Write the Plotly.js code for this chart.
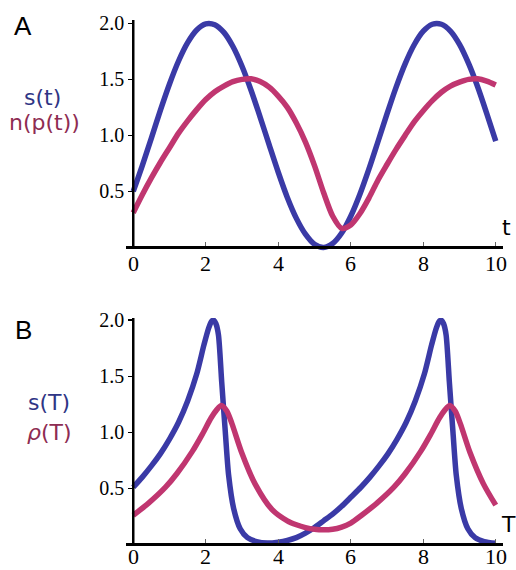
<!DOCTYPE html>
<html>
<head>
<meta charset="utf-8">
<script src="https://cdn.plot.ly/plotly-3.0.1.min.js"></script>
<style>html,body{margin:0;padding:0;background:#fff;}#chart{width:516px;height:570px;}</style>
</head>
<body>
<div id="chart"></div>
<script>
// Panel A
const tA = [0,0.25,0.5,0.75,1,1.25,1.5,1.75,2,2.25,2.5,2.75,3,3.25,3.5,3.75,4,4.25,4.5,4.75,5,5.25,5.5,5.75,6,6.25,6.5,6.75,7,7.25,7.5,7.75,8,8.25,8.5,8.75,9,9.25,9.5,9.75,10];
const sA = [0.5,0.73,0.976,1.225,1.459,1.664,1.828,1.941,1.996,1.988,1.919,1.793,1.617,1.403,1.164,0.915,0.671,0.446,0.259,0.118,0.028,0.0,0.035,0.129,0.278,0.472,0.698,0.943,1.192,1.429,1.639,1.809,1.93,1.992,1.992,1.931,1.812,1.642,1.434,1.197,0.948];
const nA = [0.31,0.47,0.62,0.76,0.89,1.02,1.13,1.23,1.32,1.39,1.44,1.48,1.50,1.505,1.48,1.43,1.35,1.25,1.11,0.94,0.73,0.49,0.28,0.17,0.20,0.30,0.44,0.60,0.74,0.875,1.00,1.12,1.22,1.31,1.385,1.44,1.475,1.50,1.505,1.485,1.45];

// Panel B
const tBs = [0,0.25,0.5,0.75,1,1.25,1.5,1.75,1.95,2.08,2.16,2.22,2.28,2.35,2.44,2.54,2.63,2.77,2.95,3.15,3.4,3.7,4,4.25,4.5,4.75,5,5.25,5.5,5.75,6,6.28,6.53,6.78,7.03,7.28,7.53,7.78,8.03,8.23,8.36,8.44,8.5,8.56,8.63,8.72,8.82,8.91,9.05,9.23,9.43,9.68,10];
const sB = [0.51,0.60,0.70,0.81,0.94,1.09,1.28,1.52,1.78,1.93,1.99,2.0,1.97,1.87,1.45,1.0,0.62,0.32,0.14,0.06,0.025,0.012,0.02,0.035,0.06,0.10,0.15,0.21,0.27,0.34,0.42,0.51,0.60,0.70,0.81,0.94,1.09,1.28,1.52,1.78,1.93,1.99,2.0,1.97,1.87,1.45,1.0,0.62,0.32,0.14,0.06,0.025,0.01];
const tBr = [0,0.43,0.89,1.2,1.63,1.9,2.15,2.3,2.43,2.58,2.72,2.99,3.36,3.83,4.25,4.5,4.75,5,5.25,5.5,5.75,6,6.3,6.73,7.19,7.5,7.93,8.2,8.45,8.6,8.73,8.88,9.02,9.29,9.66,10];
const rB = [0.26,0.37,0.51,0.63,0.83,0.98,1.13,1.20,1.24,1.19,1.08,0.82,0.54,0.31,0.21,0.175,0.15,0.135,0.13,0.135,0.155,0.19,0.26,0.37,0.51,0.63,0.83,0.98,1.13,1.20,1.24,1.19,1.08,0.82,0.54,0.35];

const xTicks = [0,2,4,6,8,10];
const yTicks = [0.5,1,1.5,2];
const yTickText = ['0.5','1.0','1.5','2.0'];

const BLUE = '#3a3aa6';
const PINK = '#c03670';
const BLUE_TXT = '#2f3585';
const PINK_TXT = '#8e2c52';

const lw = 5.5;
const traces = [
  {x:tA, y:sA, xaxis:'x', yaxis:'y', mode:'lines', line:{color:BLUE, width:lw, shape:'spline', smoothing:0.8}, hoverinfo:'skip'},
  {x:tA, y:nA, xaxis:'x', yaxis:'y', mode:'lines', line:{color:PINK, width:lw, shape:'spline', smoothing:0.8}, hoverinfo:'skip'},
  {x:tBs, y:sB, xaxis:'x2', yaxis:'y2', mode:'lines', line:{color:BLUE, width:lw, shape:'spline', smoothing:0.7}, hoverinfo:'skip'},
  {x:tBr, y:rB, xaxis:'x2', yaxis:'y2', mode:'lines', line:{color:PINK, width:lw, shape:'spline', smoothing:0.8}, hoverinfo:'skip'}
];

const serif = "'Liberation Serif', 'Times New Roman', serif";
const sans = "'DejaVu Sans', Verdana, sans-serif";
const helv = "'Liberation Sans', Arial, sans-serif";

function xAx(pos){
  return {domain:[0,1], range:[-0.2,10.2], anchor:'free', position:pos,
    showline:true, linewidth:2.5, linecolor:'#000', showgrid:false, zeroline:false,
    ticks:'inside', ticklen:4, tickwidth:1, tickcolor:'#666',
    tickvals:xTicks, showticklabels:false};
}
function yAx(dom, rng){
  return {domain:dom, range:rng, anchor:'free', position:0.01923,
    showline:false, showgrid:false, zeroline:false,
    ticks:'outside', ticklen:5, tickwidth:1.5, tickcolor:'#000',
    tickvals:yTicks, ticktext:yTickText,
    tickfont:{family:serif, size:20, color:'#000'}};
}

const ann = [];
function txt(text, x, y, font){
  ann.push({text:text, xref:'paper', yref:'paper', x:x, y:y, xanchor:'center', yanchor:'middle', showarrow:false, font:font});
}
// x tick labels (placed at tick values on each x axis)
xTicks.forEach(v => {
  ann.push({text:String(v), xref:'x', yref:'paper', x:v, y:0.5415, xanchor:'center', yanchor:'middle', showarrow:false, font:{family:serif, size:22, color:'#000'}});
  ann.push({text:String(v), xref:'x2', yref:'paper', x:v, y:-0.0132, xanchor:'center', yanchor:'middle', showarrow:false, font:{family:serif, size:22, color:'#000'}});
});
txt('A', -0.2732, 0.9887, {family:helv, size:26, color:'#000'});
txt('B', -0.2732, 0.4151, {family:helv, size:26, color:'#000'});
txt('s(t)', -0.2228, 0.8547, {family:sans, size:22, color:BLUE_TXT});
txt('n(p(t))', -0.2175, 0.8057, {family:sans, size:22, color:PINK_TXT});
txt('s(T)', -0.2042, 0.2792, {family:sans, size:22, color:BLUE_TXT});
txt('<i>ρ</i>(T)', -0.2016, 0.2208, {family:sans, size:22, color:PINK_TXT});
txt('t', 1.0106, 0.6094, {family:sans, size:22, color:'#000'});
txt('T', 1.0159, 0.0472, {family:sans, size:22, color:'#000'});

const layout = {
  width:516, height:570,
  margin:{l:126, r:13, t:20, b:20, pad:0},
  paper_bgcolor:'#fff', plot_bgcolor:'rgba(0,0,0,0)',
  showlegend:false,
  xaxis: xAx(0.57094),
  yaxis: yAx([0.56038,1], [-0.05,2.03]),
  xaxis2: xAx(0.01057),
  yaxis2: yAx([0,0.43774], [-0.05,2.02]),
  shapes:[
    {type:'line', xref:'x', yref:'y', x0:0, x1:0, y0:0, y1:2.03, line:{color:'#000', width:2.5}},
    {type:'line', xref:'x2', yref:'y2', x0:0, x1:0, y0:0, y1:2.02, line:{color:'#000', width:2.5}}
  ],
  annotations: ann
};

Plotly.newPlot('chart', traces, layout, {staticPlot:true, displayModeBar:false});
</script>
</body>
</html>
